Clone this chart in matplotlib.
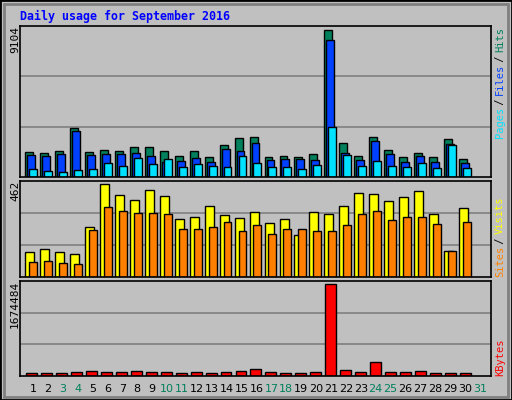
import matplotlib
matplotlib.use("Agg")
import matplotlib.pyplot as plt
from matplotlib.patches import Rectangle
import numpy as np

days = list(range(1, 32))
weekend = [3, 4, 10, 11, 17, 18, 24, 25, 31]
hits = [1504,1444,1564,2967,1504,1624,1564,1805,1805,1564,1263,1564,1203,1925,2346,2406,1203,1263,1203,1383,8862,2045,1263,2406,1624,1203,1444,1203,2286,1083]
files = [1303,1243,1363,2787,1303,1363,1363,1424,1243,882,942,1123,882,1664,1544,2045,1003,1063,1063,1003,8261,1444,1003,2185,1363,902,1243,902,1985,842]
pages = [461,381,321,441,501,862,682,1163,802,1103,622,802,682,622,1283,862,622,622,501,742,3028,1343,682,982,682,622,862,561,1945,561]
visits = [122,137,122,113,243,446,393,369,417,388,277,291,340,296,282,311,262,277,204,311,301,344,402,398,364,383,412,301,127,330]
sites = [74,79,69,64,224,335,320,306,306,301,229,233,243,267,219,248,209,229,229,219,219,248,301,320,272,291,287,253,127,267]
kbytes = [58960,58960,58960,76648,94336,76648,76648,94336,76648,76648,58960,76648,58960,76648,94336,129712,76648,58960,58960,76648,1615504,112024,76648,253528,76648,76648,94336,58960,58960,58960]
max_hits, max_visits, max_kb = 9104, 462, 1674484

BG = "#C0C0C0"
fig = plt.figure(figsize=(5.12, 4.0), dpi=100, facecolor=BG)
mono = "DejaVu Sans Mono"
W, H = 512, 400
fig.patches.append(Rectangle((0, 0), 1, 1, transform=fig.transFigure, fill=False, ec="black", lw=2))
fig.patches.append(Rectangle((4/W, 3/H), 1-8/W, 1-7/H, transform=fig.transFigure, fill=False, ec="#808080", lw=2))

def mkax(top, bottom):
    ax = fig.add_axes([20/W, 1-bottom/H, (491-20)/W, (bottom-top)/H])
    ax.set_facecolor(BG)
    ax.set_xlim(0.13, 31.6)
    ax.set_xticks([]); ax.set_yticks([])
    for s in ax.spines.values():
        s.set_color("black"); s.set_linewidth(1.2)
    return ax

x = np.array(days[:30])
ax1 = mkax(26, 177)
ax1.set_ylim(0, max_hits)
for f in (1/3, 2/3):
    ax1.axhline(max_hits*f, color="#808080", lw=1.2, zorder=0)
kw = dict(align="edge", edgecolor="black", linewidth=1)
ax1.bar(x-0.53, hits, 0.53, color="#00805C", **kw)
ax1.bar(x-0.40, files, 0.53, color="#0040FF", **kw)
ax1.bar(x-0.27, pages, 0.53, color="#00E0FF", **kw)

ax2 = mkax(181, 277)
ax2.set_ylim(0, max_visits)
for f in (1/3, 2/3):
    ax2.axhline(max_visits*f, color="#808080", lw=1.2, zorder=0)
ax2.bar(x-0.53, visits, 0.6, color="#FFFF00", **kw)
ax2.bar(x-0.27, sites, 0.53, color="#FF8000", **kw)

ax3 = mkax(281, 376)
ax3.set_ylim(0, max_kb)
for f in (1/3, 2/3):
    ax3.axhline(max_kb*f, color="#808080", lw=1.2, zorder=0)
ax3.bar(x-0.47, kbytes, 0.73, color="#FF0000", **kw)

fig.text(20/W, 1-16/H, "Daily usage for September 2016", color="#0000FF", family=mono,
         weight="bold", fontsize=8.4, va="center")
for txt, ytop in ((str(max_hits), 26), (str(max_visits), 181), (str(max_kb), 281)):
    fig.text(15/W, 1-ytop/H, txt, rotation=90, family=mono, fontsize=8, ha="center", va="top")

def rlabel(parts, ybottom, step=5.4):
    y = 1-ybottom/H
    for t, c in parts:
        fig.text(500/W, y, t, rotation=90, family=mono, fontsize=7.5, color=c, ha="center", va="bottom")
        y += len(t) * step/H

rlabel([("Pages", "#00E0FF"), (" / ", "black"), ("Files", "#0040FF"), (" / ", "black"), ("Hits", "#00805C")], 138)
rlabel([("Sites", "#FF8000"), (" / ", "black"), ("Visits", "#FFFF00")], 277)
rlabel([("KBytes", "#FF0000")], 376)

for d in days:
    xp = (33 + (d-1)*14.9)/W
    fig.text(xp, 1-389/H, str(d), ha="center", va="center", fontsize=8,
             color="#00805C" if d in weekend else "black")

fig.savefig("out.png", dpi=100, facecolor=BG)
